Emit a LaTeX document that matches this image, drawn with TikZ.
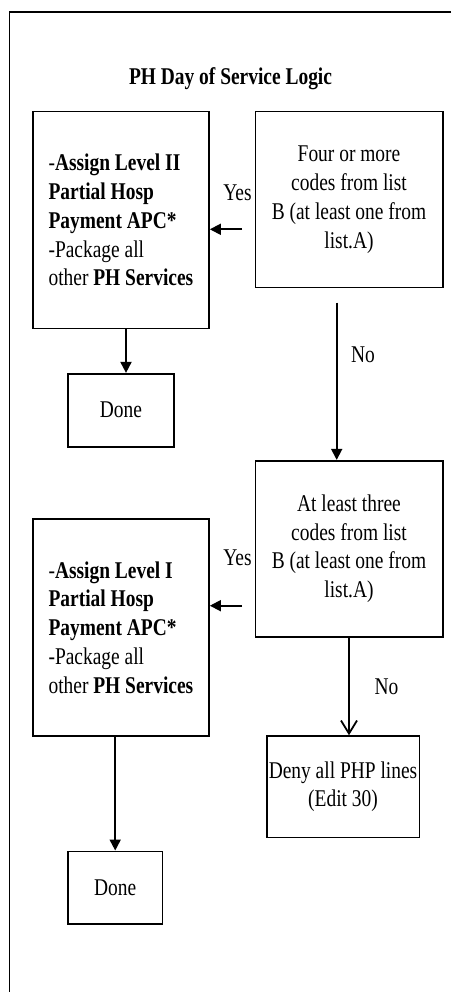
\documentclass[tikz,border=0pt]{standalone}
\usepackage{fontspec}
\setmainfont{Liberation Serif}[FakeStretch=0.81]
\usetikzlibrary{arrows.meta}
\begin{document}
\begin{tikzpicture}[x=1pt,y=-1pt,
  box/.style={draw, line width=1.6pt, rectangle, inner sep=0pt, font=\fontsize{24}{28.8}\selectfont},
  arr/.style={line width=1.8pt, -{Triangle[length=11pt,width=11pt]}},
  varr/.style={line width=1.8pt, -{Straight Barb[length=13pt,width=16pt]}},
  lbl/.style={font=\fontsize{24}{28.8}\selectfont, inner sep=0pt},
  frame/.style={line width=1.5pt}]
\useasboundingbox (0,0) rectangle (451,992);
\coordinate (ftr) at (451,12);
\coordinate (fc) at (9.5,12);
\coordinate (fbl) at (9.5,992);
\draw[frame] (ftr) -- (fc) -- (fbl);

\node[lbl, font=\bfseries\fontsize{24}{28.8}\selectfont, anchor=base] (title) at (230.5,85) {PH Day of Service Logic};

\node[box, minimum width=176.3pt, minimum height=216.6pt, align=left] (lvl2) at (120.9,220)
  {-\textbf{Assign Level II}\\\textbf{Partial Hosp}\\\textbf{Payment APC*}\\-Package all\\other \textbf{PH Services}};
\node[box, minimum width=187.4pt, minimum height=175.6pt, align=center] (four) at (349,199.5)
  {Four or more\\codes from list\\B (at least one from\\list.A)};
\node[box, minimum width=105.7pt, minimum height=73pt] (done1) at (120.9,410.2) {Done};
\node[box, minimum width=187.4pt, minimum height=176pt, align=center] (three) at (349,548.7)
  {At least three\\codes from list\\B (at least one from\\list.A)};
\node[box, minimum width=176.3pt, minimum height=217pt, align=left] (lvl1) at (120.9,627.5)
  {-\textbf{Assign Level I}\\\textbf{Partial Hosp}\\\textbf{Payment APC*}\\-Package all\\other \textbf{PH Services}};
\node[box, minimum width=152.6pt, minimum height=101.3pt, align=center] (deny) at (343,786.7)
  {Deny all PHP lines\\(Edit 30)};
\node[box, minimum width=94.3pt, minimum height=72.7pt] (done2) at (115.2,887.7) {Done};

\draw[arr] ([xshift=5.1pt]lvl2.south) -- ([xshift=5.1pt]done1.north);
\draw[arr, shorten <=12.3pt] ([yshift=-29.8pt]four.west) -- ([yshift=-29.8pt]four.west -| lvl2.east);
\draw[arr, shorten <=14.4pt] ([xshift=-12.3pt]four.south) -- ([xshift=-12.3pt]four.south |- three.north);
\draw[arr, shorten <=12.3pt] ([yshift=-57pt]three.west) -- ([yshift=-57pt]three.west -| lvl1.east);
\draw[varr] (three.south) -- (three.south |- deny.north);
\draw[arr] (done2.north |- lvl1.south) -- (done2.north);

\node[lbl] (yes1) at (237.5,193) {Yes};
\node[lbl] (no1) at (363,355) {No};
\node[lbl] (yes2) at (237.5,557.7) {Yes};
\node[lbl] (no2) at (386.5,686.7) {No};
\end{tikzpicture}
\end{document}
